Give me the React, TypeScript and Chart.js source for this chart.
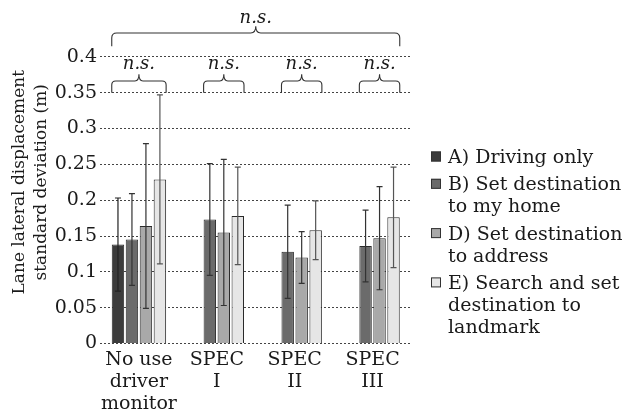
import React, { useEffect, useRef } from 'react';
import { Chart, registerables } from 'chart.js';

Chart.register(...registerables);

const categories = [['No use', 'driver', 'monitor'], ['SPEC', 'I'], ['SPEC', 'II'], ['SPEC', 'III']];
const seriesLabels = [
  ['A) Driving only'],
  ['B) Set destination', 'to my home'],
  ['D) Set destination', 'to address'],
  ['E) Search and set', 'destination to', 'landmark'],
];
const seriesColors = ['#3c3c3c', '#6b6b6b', '#a9a9a9', '#e6e6e6'];
const errorColors = ['#222222', '#333333', '#333333', '#555555'];

const meanA = [0.138, null, null, null];
const meanB = [0.145, 0.173, 0.128, 0.136];
const meanD = [0.164, 0.155, 0.120, 0.147];
const meanE = [0.229, 0.178, 0.158, 0.176];

const sdA = [0.065, null, null, null];
const sdB = [0.064, 0.078, 0.065, 0.050];
const sdD = [0.115, 0.102, 0.036, 0.072];
const sdE = [0.118, 0.068, 0.041, 0.070];

const yMin = 0;
const yMax = 0.45;
const yStep = 0.05;
const groupNotes = ['n.s.', 'n.s.', 'n.s.', 'n.s.'];
const overallNote = 'n.s.';
const groupNoteLevel = 0.35;
const overallNoteLevel = 0.4;
const yTitle = ['Lane lateral displacement', 'standard deviation (m)'];

const means = [meanA, meanB, meanD, meanE];
const sds = [sdA, sdB, sdD, sdE];

const FONT = "'DejaVu Serif', 'Noto Sans CJK JP', serif";
const TEXT = '#1a1a1a';

const errorBarPlugin = {
  id: 'errorBars',
  afterDatasetsDraw(chart: any) {
    const ctx = chart.ctx;
    const ys = chart.scales.y;
    chart.data.datasets.forEach((ds: any, i: number) => {
      const meta = chart.getDatasetMeta(i);
      meta.data.forEach((el: any, j: number) => {
        const v = ds.data[j];
        const e = sds[i][j];
        if (v == null || e == null) return;
        const { x } = el.getProps(['x'], true);
        const top = ys.getPixelForValue(v + e);
        const bot = ys.getPixelForValue(v - e);
        ctx.save();
        ctx.strokeStyle = errorColors[i];
        ctx.lineWidth = 1.2;
        ctx.beginPath();
        ctx.moveTo(x, top);
        ctx.lineTo(x, bot);
        ctx.moveTo(x - 3, top);
        ctx.lineTo(x + 3, top);
        ctx.moveTo(x - 3, bot);
        ctx.lineTo(x + 3, bot);
        ctx.stroke();
        ctx.restore();
      });
    });
  },
};

function drawBrace(ctx: CanvasRenderingContext2D, x1: number, x2: number, yb: number, yt: number, tip: number, r: number) {
  const xm = (x1 + x2) / 2;
  ctx.beginPath();
  ctx.moveTo(x1, yb);
  ctx.lineTo(x1, yt + r);
  ctx.quadraticCurveTo(x1, yt, x1 + r, yt);
  ctx.lineTo(xm - r, yt);
  ctx.quadraticCurveTo(xm, yt, xm, tip);
  ctx.quadraticCurveTo(xm, yt, xm + r, yt);
  ctx.lineTo(x2 - r, yt);
  ctx.quadraticCurveTo(x2, yt, x2, yt + r);
  ctx.lineTo(x2, yb);
  ctx.stroke();
}

const bracePlugin = {
  id: 'braces',
  afterDraw(chart: any) {
    const ctx = chart.ctx;
    const ys = chart.scales.y;
    const spans = categories.map((_, j) => {
      let l = Infinity;
      let r = -Infinity;
      chart.data.datasets.forEach((ds: any, i: number) => {
        if (ds.data[j] == null) return;
        const el = chart.getDatasetMeta(i).data[j];
        const { x, width } = el.getProps(['x', 'width'], true);
        l = Math.min(l, x - width / 2);
        r = Math.max(r, x + width / 2);
      });
      return [l, r];
    });
    ctx.save();
    ctx.strokeStyle = '#333';
    ctx.lineWidth = 1.1;
    ctx.fillStyle = TEXT;
    ctx.font = `italic 18px ${FONT}`;
    ctx.textAlign = 'center';
    ctx.textBaseline = 'alphabetic';
    const yb = ys.getPixelForValue(groupNoteLevel);
    spans.forEach(([l, r], j) => {
      drawBrace(ctx, l, r, yb, yb - 11.7, yb - 18.4, 4);
      ctx.fillText(groupNotes[j], (l + r) / 2, yb - 24);
    });
    const yb2 = ys.getPixelForValue(overallNoteLevel) - 10.5;
    const L = spans[0][0];
    const R = spans[spans.length - 1][1];
    drawBrace(ctx, L, R, yb2, yb2 - 13.4, yb2 - 20, 5);
    ctx.fillText(overallNote, (L + R) / 2, yb2 - 23.4);
    ctx.restore();
  },
};

const legendPlugin = {
  id: 'sideLegend',
  afterDraw(chart: any) {
    const ctx = chart.ctx;
    ctx.save();
    ctx.font = `19px ${FONT}`;
    ctx.textAlign = 'left';
    ctx.textBaseline = 'alphabetic';
    let base = 163;
    chart.data.datasets.forEach((ds: any, i: number) => {
      const lines = seriesLabels[i];
      ctx.fillStyle = ds.backgroundColor;
      ctx.fillRect(431, base - 11.5, 10, 10);
      ctx.strokeStyle = '#333';
      ctx.lineWidth = 1;
      ctx.strokeRect(431.5, base - 11, 9, 9);
      ctx.fillStyle = TEXT;
      lines.forEach((t, k) => {
        ctx.fillText(t, 448, base + k * 22);
      });
      base += (lines.length - 1) * 22 + 27.3;
    });
    ctx.restore();
  },
};

export default function App() {
  const ref = useRef<HTMLCanvasElement>(null);
  useEffect(() => {
    document.body.style.margin = '0';
    const chart = new Chart(ref.current as HTMLCanvasElement, {
      type: 'bar',
      data: {
        labels: categories,
        datasets: means.map((m, i) => ({
          label: seriesLabels[i].join(' '),
          data: m,
          backgroundColor: seriesColors[i],
          borderColor: '#2a2a2a',
          borderWidth: 1,
          categoryPercentage: 0.718,
          barPercentage: 0.89,
        })),
      },
      options: {
        animation: false,
        responsive: false,
        layout: { padding: { left: 0, top: 21, right: 218.5, bottom: 0 } },
        plugins: { legend: { display: false }, tooltip: { enabled: false } },
        scales: {
          x: {
            grid: { display: false, drawTicks: false },
            border: { display: false },
            ticks: {
              color: TEXT,
              font: { family: FONT, size: 19, lineHeight: 1.18 },
              padding: 5,
              autoSkip: false,
              maxRotation: 0,
            },
            afterFit: (s: any) => { s.height = 72.5; },
          },
          y: {
            min: yMin,
            max: yMax,
            grid: {
              drawTicks: false,
              color: (c: any) => (c.tick && c.tick.value >= yMax - 1e-9 ? 'rgba(0,0,0,0)' : '#444'),
              lineWidth: 1,
            },
            border: { display: false, dash: [2, 2] },
            ticks: {
              stepSize: yStep,
              padding: 3,
              color: TEXT,
              font: { family: FONT, size: 19 },
              callback: (v: any) => (v >= yMax - 1e-9 ? '' : String(Number(Number(v).toFixed(2)))),
            },
            title: {
              display: true,
              text: yTitle,
              color: TEXT,
              font: { family: FONT, size: 17, lineHeight: 1.3 },
              padding: { top: 8.5, bottom: 0 },
            },
            afterFit: (s: any) => { s.width = 100; },
          },
        },
      },
      plugins: [errorBarPlugin, bracePlugin, legendPlugin],
    } as any);
    return () => chart.destroy();
  }, []);
  return (
    <div style={{ width: 630, height: 416, position: 'relative', background: '#fff' }}>
      <canvas ref={ref} width={630} height={416} style={{ display: 'block' }} />
    </div>
  );
}
